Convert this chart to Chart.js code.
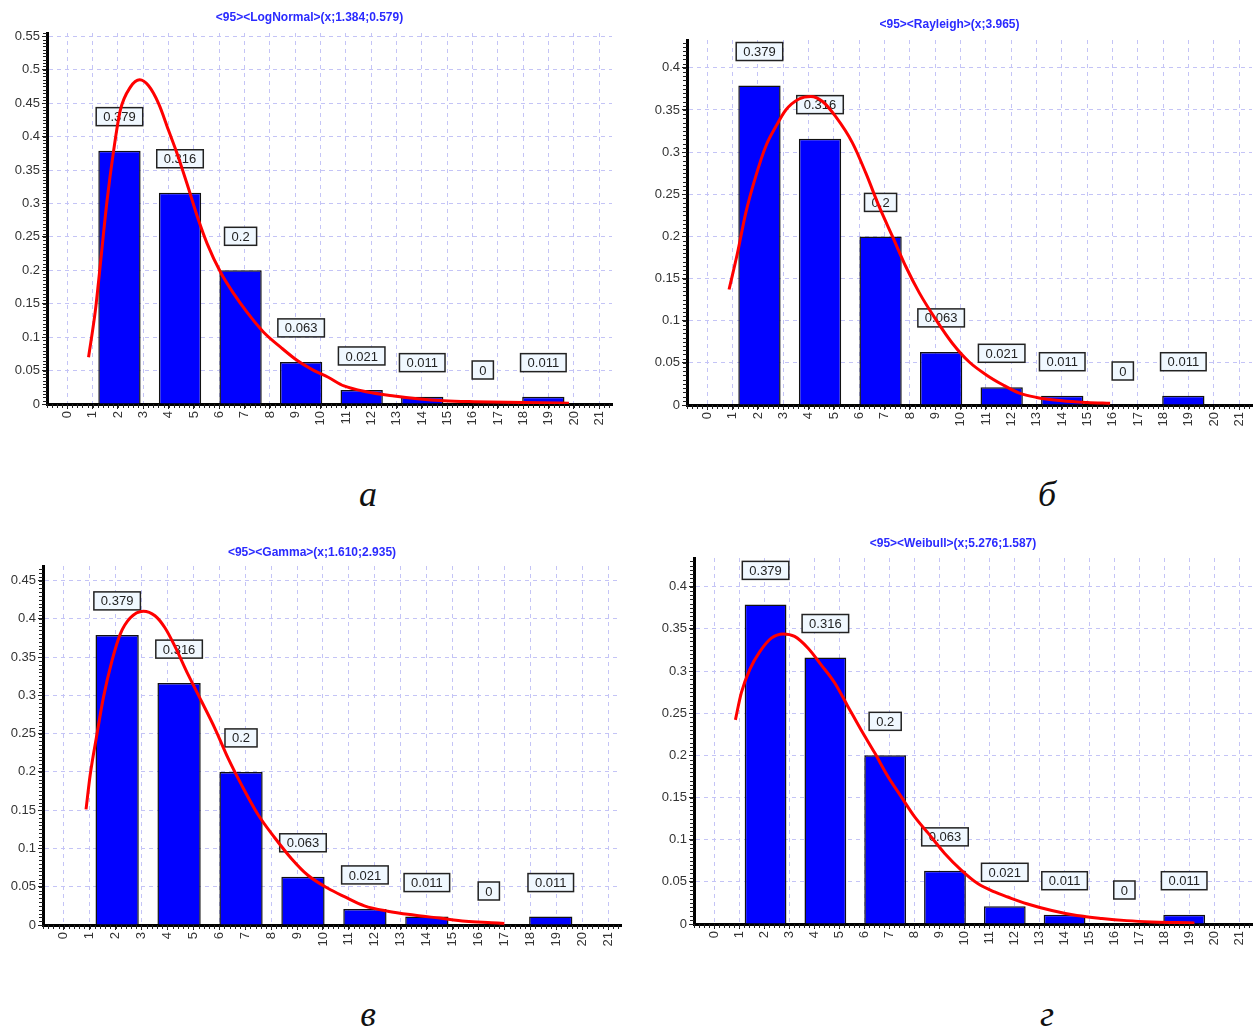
<!DOCTYPE html>
<html>
<head>
<meta charset="utf-8">
<script src="https://cdn.jsdelivr.net/npm/chart.js@4"></script>
<style>
  body { margin: 0; background: #fff; width: 1259px; height: 1030px; position: relative; overflow: hidden; }
  canvas { position: absolute; }
  .cap { position: absolute; width: 100px; text-align: center; font: italic 36px "Liberation Serif", "DejaVu Serif", serif; line-height: 36px; color: #111; }
</style>
</head>
<body>
<canvas id="cA"></canvas>
<canvas id="cB"></canvas>
<canvas id="cC"></canvas>
<canvas id="cD"></canvas>
<div class="cap" style="left:318px;top:476px">а</div>
<div class="cap" style="left:997px;top:476px">б</div>
<div class="cap" style="left:318px;top:996px">в</div>
<div class="cap" style="left:997px;top:996px">г</div>
<script>
// histogram bins (same sample in all four panels)
var binCenters = [2.06, 4.45, 6.84, 9.23, 11.62, 14.01, 16.40, 18.79];
var binFreq = [0.379, 0.316, 0.2, 0.063, 0.021, 0.011, 0, 0.011];

// fitted curves
var logNormX = [0.84, 1.11, 1.24, 1.57, 1.83, 2.09, 2.49, 2.86, 3.21, 3.61, 4.00, 4.34, 4.73, 5.19, 5.52, 6.05, 6.57, 7.10, 7.76, 8.42, 9.08, 9.74, 10.3, 10.92, 11.85, 12.9, 13.82, 14.87, 16.06, 17.38, 18.7, 19.8];
var logNormY = [0.070, 0.140, 0.185, 0.304, 0.379, 0.439, 0.474, 0.485, 0.476, 0.449, 0.409, 0.374, 0.329, 0.274, 0.240, 0.197, 0.165, 0.137, 0.107, 0.085, 0.065, 0.050, 0.040, 0.027, 0.018, 0.012, 0.008, 0.005, 0.0035, 0.0025, 0.002, 0.001];

var rayleighX = [0.86, 1.19, 1.52, 1.91, 2.31, 2.70, 3.10, 3.62, 4.09, 4.55, 5.07, 5.73, 6.26, 6.79, 7.31, 7.84, 8.37, 9.03, 9.68, 10.34, 11.0, 11.66, 12.32, 13.0, 14.0, 15.0, 15.9];
var rayleighY = [0.137, 0.180, 0.228, 0.271, 0.307, 0.330, 0.350, 0.363, 0.366, 0.360, 0.342, 0.311, 0.275, 0.235, 0.200, 0.164, 0.133, 0.101, 0.073, 0.051, 0.036, 0.024, 0.014, 0.009, 0.005, 0.003, 0.002];

var gammaX = [0.86, 1.02, 1.28, 1.53, 1.86, 2.18, 2.56, 3.07, 3.52, 3.91, 4.29, 4.80, 5.32, 5.83, 6.34, 6.86, 7.50, 8.14, 8.78, 9.42, 10.19, 10.83, 11.6, 12.5, 13.5, 14.5, 15.5, 16.5, 17.0];
var gammaY = [0.151, 0.196, 0.249, 0.297, 0.345, 0.380, 0.401, 0.410, 0.404, 0.388, 0.364, 0.327, 0.292, 0.257, 0.218, 0.183, 0.144, 0.114, 0.087, 0.065, 0.048, 0.037, 0.025, 0.018, 0.013, 0.009, 0.005, 0.003, 0.002];

var weibullX = [0.855, 1.09, 1.43, 1.83, 2.29, 2.76, 3.22, 3.76, 4.29, 4.82, 5.35, 5.88, 6.42, 6.95, 7.48, 8.02, 8.55, 9.21, 9.88, 10.54, 11.21, 11.74, 12.5, 13.5, 14.5, 15.5, 16.5, 17.5, 18.5, 19.2];
var weibullY = [0.242, 0.274, 0.302, 0.323, 0.339, 0.344, 0.341, 0.327, 0.307, 0.286, 0.258, 0.230, 0.203, 0.175, 0.151, 0.127, 0.108, 0.084, 0.064, 0.048, 0.038, 0.032, 0.024, 0.016, 0.010, 0.0065, 0.004, 0.0025, 0.0017, 0.0012];

var titles = ['<95><LogNormal>(x;1.384;0.579)', '<95><Rayleigh>(x;3.965)', '<95><Gamma>(x;1.610;2.935)', '<95><Weibull>(x;5.276;1.587)'];
var yMaxes = [0.555, 0.433, 0.469, 0.434];

var FONT = '"Liberation Sans", Arial, sans-serif';

// small box with the value above every bar, drawn before the curve
var valueBoxes = {
  id: 'valueBoxes',
  afterDatasetDraw: function(chart, args) {
    if (args.index !== 0) return;
    var ctx = chart.ctx;
    ctx.save();
    ctx.font = '13px ' + FONT;
    ctx.textAlign = 'center';
    ctx.textBaseline = 'middle';
    args.meta.data.forEach(function(bar, i) {
      var txt = String(binFreq[i]);
      var w = ctx.measureText(txt).width + 14, h = 18;
      var cx = bar.x, cy = bar.y - 34;
      ctx.fillStyle = '#f0f8ff';
      ctx.fillRect(cx - w / 2, cy - h / 2, w, h);
      ctx.strokeStyle = '#222';
      ctx.lineWidth = 1.5;
      ctx.strokeRect(cx - w / 2, cy - h / 2, w, h);
      ctx.fillStyle = '#222';
      ctx.fillText(txt, cx, cy + 1);
    });
    ctx.restore();
  }
};

// dense little ticks along both axes
var minorTicks = {
  id: 'minorTicks',
  afterDraw: function(chart) {
    var ctx = chart.ctx, x = chart.scales.x, y = chart.scales.y, a = chart.chartArea;
    ctx.save();
    ctx.strokeStyle = '#222';
    ctx.lineWidth = 1;
    ctx.beginPath();
    for (var k = Math.ceil(x.min * 5); k <= Math.floor(x.max * 5); k++) {
      var px = Math.round(x.getPixelForValue(k / 5)) + 0.5;
      ctx.moveTo(px, a.bottom);
      ctx.lineTo(px, a.bottom + 4);
    }
    for (var j = 0; j <= Math.floor(y.max * 200); j++) {
      var py = Math.round(y.getPixelForValue(j / 200)) + 0.5;
      ctx.moveTo(a.left - 4, py);
      ctx.lineTo(a.left, py);
    }
    ctx.stroke();
    ctx.restore();
  }
};

function makeChart(id, n, cx, cy, box, titlePad, padRight) {
  var cv = document.getElementById(id);
  cv.width = box[2];
  cv.height = box[3];
  cv.style.left = box[0] + 'px';
  cv.style.top = box[1] + 'px';
  var bars = binCenters.map(function(c, i) { return {x: c, y: binFreq[i]}; });
  var curve = cx.map(function(v, i) { return {x: v, y: cy[i]}; });
  return new Chart(cv.getContext('2d'), {
    type: 'bar',
    data: {
      datasets: [{
        type: 'bar',
        data: bars,
        backgroundColor: '#0000ff',
        borderColor: '#111',
        borderWidth: 1.5,
        // the bar ruler is the 1-unit tick spacing, bars cover ~70% of a 2.39 wide bin
        barPercentage: 1.67,
        categoryPercentage: 1,
        order: 2
      }, {
        type: 'line',
        data: curve,
        borderColor: '#ff0000',
        borderWidth: 3,
        pointRadius: 0,
        cubicInterpolationMode: 'monotone',
        fill: false,
        order: 1
      }]
    },
    options: {
      responsive: false,
      animation: false,
      events: [],
      layout: { padding: { left: 0, right: padRight, top: 0, bottom: 0 } },
      plugins: {
        legend: { display: false },
        tooltip: { enabled: false },
        title: {
          display: true,
          text: titles[n],
          color: '#2a2aff',
          font: { family: FONT, size: 12, weight: 'bold' },
          padding: { top: titlePad[0], bottom: titlePad[1] }
        }
      },
      scales: {
        x: {
          type: 'linear',
          min: -0.8,
          max: 21.5,
          offset: false,
          afterFit: function(s) { s.height = 36; s.paddingLeft = 0; s.paddingRight = 0; },
          ticks: {
            stepSize: 1,
            includeBounds: false,
            autoSkip: false,
            minRotation: 90,
            maxRotation: 90,
            padding: 2,
            color: '#333',
            font: { family: FONT, size: 13 }
          },
          grid: { offset: false, color: '#c4c4f6', lineWidth: 1, tickLength: 5, tickColor: '#222', tickBorderDash: [] },
          border: { display: true, color: '#000', width: 3, dash: [4, 4] }
        },
        y: {
          type: 'linear',
          min: 0,
          max: yMaxes[n],
          afterFit: function(s) { s.width = 40; s.paddingTop = 0; s.paddingBottom = 0; },
          ticks: {
            stepSize: 0.05,
            includeBounds: false,
            padding: 2,
            color: '#333',
            font: { family: FONT, size: 13 },
            callback: function(v) { return String(Number(v.toFixed(2))); }
          },
          grid: { color: '#c4c4f6', lineWidth: 1, tickLength: 5, tickColor: '#222', tickBorderDash: [] },
          border: { display: true, color: '#000', width: 3, dash: [4, 4] }
        }
      }
    },
    plugins: [valueBoxes, minorTicks]
  });
}

makeChart('cA', 0, logNormX, logNormY, [7, 0, 606, 440], [10, 8.6], 1);
makeChart('cB', 1, rayleighX, rayleighY, [647, 0, 606, 441], [17, 8.6], 1);
makeChart('cC', 2, gammaX, gammaY, [3, 535, 624, 426], [10, 6.6], 6);
makeChart('cD', 3, weibullX, weibullY, [654, 526, 602, 434], [10, 7.6], 4);
</script>
</body>
</html>
